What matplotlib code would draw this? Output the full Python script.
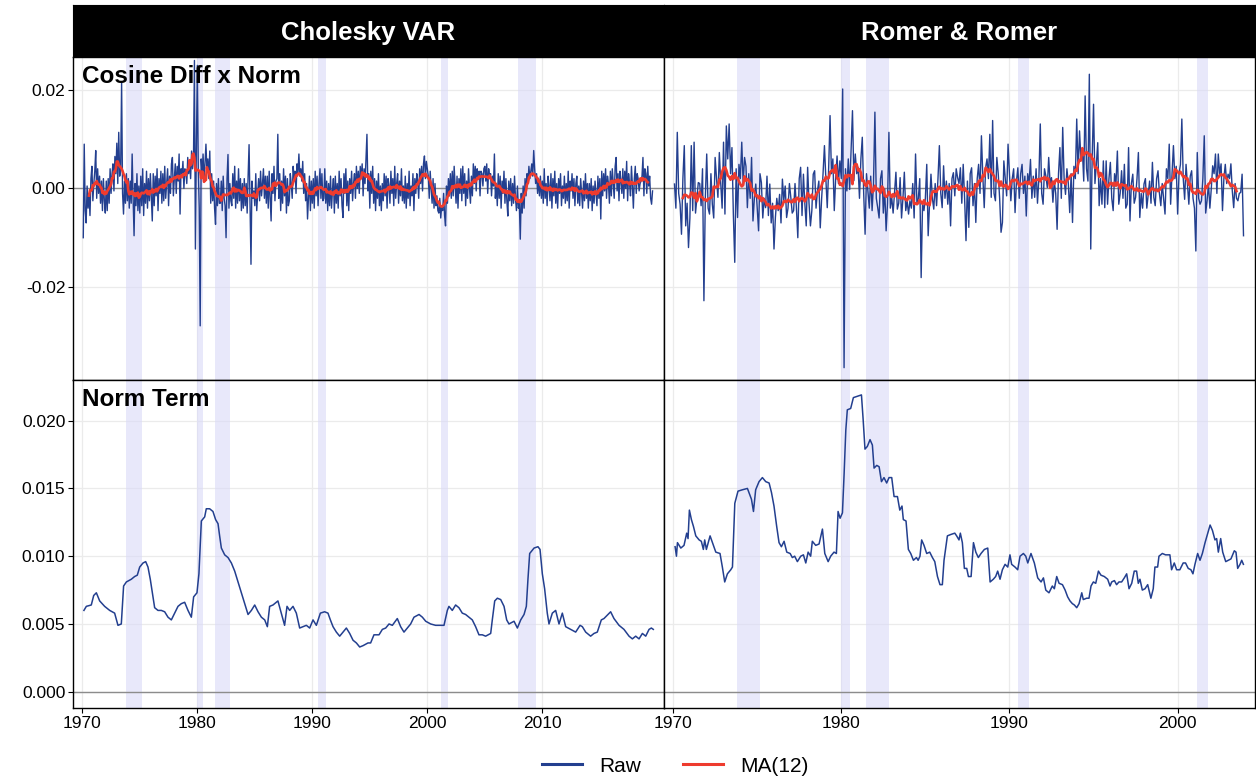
import numpy as np
import pandas as pd
import matplotlib
matplotlib.use('Agg')
import matplotlib.pyplot as plt
from matplotlib.lines import Line2D

plt.rcParams['font.family'] = ['Liberation Sans', 'DejaVu Sans']
plt.rcParams['axes.unicode_minus'] = False

BLUE = '#233F8F'
RED = '#EE3B2E'
BAND = '#D9DAF7'

col_titles = ['Cholesky VAR', 'Romer & Romer']
row_titles = ['Cosine Diff x Norm', 'Norm Term']
legend_labels = ['Raw', 'MA(12)']

# NBER recessions (decimal years)
recessions = [(1973.83, 1975.17), (1980.0, 1980.5), (1981.5, 1982.83),
              (1990.5, 1991.17), (2001.17, 2001.83), (2007.92, 2009.42)]

# cosine diff x norm, monthly from Feb 1970, units of 1e-4
chol_raw = [
    -100, 90, -45, -70, 5, -40, -10, -55, 20, 45, -25,            # 1970
    10, 35, 77, -20, 40, -10, 25, -30, 15, -45, 20, -25,           # 1971
    -50, 15, -45, 20, -30, 40, -10, 30, 50, -5, 65, 30,
    92, 10, 114, 25, 40, 216, -10, -52, 15, -30, 30, -25,
    20, -40, 15, -30, 70, -20, -96, 10, -35, 30, -45, 5,
    -50, 25, -35, 40, -55, 10, -30, 35, -40, 20, -25, 30,          # 1975
    -20, -66, 30, -35, 25, -15, 40, -45, 20, -10, 35, -30,
    30, -25, 45, -20, 10, 40, -35, 25, -10, 50, 63, -15,
    20, 50, -10, 45, 15, 70, -52, 40, 25, 55, 0, 40,
    35, 10, 63, 30, 55, 20, 76, 40, 60, 260, -123, 80,
    250, 40, -40, -279, 60, 30, 70, 20, 50, 90, 40, 60,            # 1980
    20, 76, -30, 30, -25, 15, -40, -73, 10, -35, 20, -30,
    -30, 15, -45, 25, -20, -35, -100, 20, 69, -40, 10, -25,
    -35, 30, -20, 45, -40, 15, -30, 40, -25, 20, -45, 10,
    -40, 20, -35, 10, -50, 25, 89, -30, -154, 15, -20, -5,
    -35, 30, -45, -10, 20, -25, 35, -15, 10, 40, -20, 25,          # 1985
    -30, 25, -40, 35, -20, -66, 30, -10, 45, -25, 15, 20,
    110, -20, 30, -45, 15, -30, 40, -15, 25, -50, 20, -35,
    -25, 30, 10, -20, 45, 20, 35, -10, 50, 30, 70, 25,
    40, 15, 55, -10, 30, -25, 10, -62, -20, 25, -45, 15,
    -30, 20, -40, 35, -15, 25, -35, 10, 40, -20, 30, -25,          # 1990
    -20, 40, -30, 15, -45, 10, -35, 25, -40, -5, 20, -50,
    25, -30, 10, -40, 35, -15, 20, -35, -59, 30, -10, 40,
    -35, 15, -45, 20, -10, 35, -25, 10, 30, -20, 45, 0,
    35, -10, 45, 20, 50, -15, 40, 10, 60, 110, -5, 30,
    -40, 35, -10, 45, -30, 20, -45, 15, -20, 30, -35, 5,           # 1995
    -45, 10, -25, 30, -15, 25, -40, 20, 5, -30, 35, -10,
    20, -35, 45, -20, 10, 30, -30, 15, -15, 40, -25, 5,
    -30, 25, -40, 10, -20, 35, -35, 5, -15, 30, -45, 20,
    -10, 30, 15, -20, 40, 10, 45, -5, 50, 66, 20, 55,
    40, 25, -20, 35, 0, -30, 20, -40, 10, -35, -15, -45,           # 2000
    -50, -20, -60, -35, -45, -10, -55, -76, 5, -30, 20, -15,
    30, -20, 35, -15, 45, 5, -30, 25, -40, 20, -10, 40,
    -25, 45, -10, 30, -35, 15, -20, 40, 0, -30, 25, -15,
    50, 10, 45, -5, 40, 20, 35, -15, 35, 30, 5, 40,
    45, 15, 50, -10, 40, 20, 30, -15, 25, 5, 70, -20,              # 2005
    10, -35, 30, -20, 25, -40, 15, -10, 35, -30, 20, -25,
    -56, 15, -25, 20, -35, 10, -30, 25, -20, -45, 5, -40,
    -30, -103, -10, -50, 5, -40, 20, -15, 30, 10, 45, 20,
    35, 50, 25, 77, 40, 10, 30, -10, 20, -15, 25, -20,
    15, -30, 40, -20, 10, -35, 25, 5, -25, 30, -40, 20,            # 2010
    -15, 35, -30, 10, -40, 20, -10, 30, -35, 5, -20, 25,
    -30, 10, -25, 35, -40, 15, -5, 30, -20, 20, -35, 10,
    25, -30, 5, -35, 20, -10, -40, 15, -25, 30, -20, 10,
    -40, 10, -25, 20, -45, 5, -30, 15, -10, -35, 25, -20,
    20, -62, 35, -15, 30, -5, 40, -20, 25, 10, -30, 35,            # 2015
    -15, 40, 10, -20, 45, 63, -5, 30, -25, 35, 15, -10,
    40, -20, 35, 0, 55, -25, 30, 10, -15, 45, 5, -40,
    20, 45, -10, 30, 20, -5, 10, 15, 25, 63, -15, 40,
    30, -10, 45, 5, 25, -20, -32, -5,                              # 2019
]

romer_raw = [
    9, -40, 114, -10, -32, -93, 20, 87, -76, -30, -120,            # 1970
    -60, 87, -45, 94, -50, -18, 12, 10, -35, 40, -228, -20,
    70, -40, -52, 30, -32, -60, 63, 20, -18, 73, 10, -40,
    94, -52, 127, 60, 131, 30, 83, -52, -150, 40, -59, 49,
    20, 94, 10, 63, 45, -39, 30, -20, 63, -66, -20, 9,
    -40, -86, 30, 12, -60, -20, -39, 25, -55, 9, -70, -30,         # 1975
    -123, -59, -20, -45, -12, -70, 19, -25, 5, -59, -40, 10,
    -18, -50, -45, 10, -40, -100, 20, 43, -55, 29, -30, -76,
    43, -30, -76, -45, 29, 36, -40, -5, 15, -80, -20, 30,
    87, 20, -39, 40, 148, 30, 60, -45, 20, 66, 10, 56,
    20, 202, -364, 40, -5, 60, -2, 80, 158, 16, 70, 30,            # 1980
    43, -20, 60, 104, -10, -93, 30, -5, -40, 25, -45, 10,
    155, -20, -39, -60, 20, 36, -50, -1, -86, -30, 114, -40,
    -18, -50, -10, 33, -42, -30, 22, -60, -20, 33, -45, -25,
    -52, -25, -40, 10, -60, 70, -32, -20, 20, -181, -30, -45,
    -20, 49, -96, -30, 29, -20, -42, 10, -35, 20, 87, -10,         # 1985
    -39, 46, -20, 15, -32, 10, -76, 20, 32, -15, 40, 22,
    10, 42, -30, 49, -20, -106, 15, -79, 30, 42, -35, 10,
    -69, 20, 49, -10, 107, 25, -39, 42, 60, 20, 110, -18,
    138, -10, -25, 63, 30, -20, -89, -69, 56, 20, -15, 90,
    30, -25, 20, 40, -49, 15, 42, -20, 30, 49, -10, 25,            # 1990
    -56, 30, 10, 59, -20, 25, -18, 40, -30, 20, 131, -10,
    -32, 40, 25, 2, 63, 10, 22, -28, 15, -10, -83, 30,
    83, -20, 124, 20, -12, 40, 10, -49, 30, -69, 45, 20,
    141, 30, 117, 60, 80, 15, 188, 40, 15, 232, -123, 60,
    171, 10, 49, 93, -35, 20, -32, 56, -39, 56, -32, 20,           # 1995
    53, -20, -45, 30, 10, 76, -32, -10, 36, -20, 49, -40,
    -32, 83, -66, 10, 29, -30, -18, 20, 73, -59, -10, -40,
    9, 20, -40, -12, 15, -30, 53, -18, -35, 20, 36, -10,
    -35, 10, -20, -52, 40, 20, 90, -32, 30, 87, 20, 45,
    -52, 30, 49, 141, 20, -22, 49, 10, -32, 25, 36, -20,           # 2000
    -40, -127, 73, -20, -32, -25, 20, 107, -50, -25, 10, -40,
    -1, 46, 30, 70, -10, 70, 29, 50, -45, 20, 49, 10,
    29, 20, 50, -5, -39, 10, -20, -25, -10, -8, 29, -96,           # 2003
]

# norm term, units of 1e-3
chol_norm_year = [
    1970.14, 1970.35, 1970.78, 1970.99, 1971.22, 1971.51, 1971.94, 1972.38, 1972.81, 1973.10,
    1973.39, 1973.59, 1973.83, 1974.26, 1974.55, 1974.78, 1974.99, 1975.28, 1975.51, 1975.71,
    1975.91, 1976.14, 1976.29, 1976.58, 1976.87, 1977.16, 1977.45, 1977.74, 1978.03, 1978.32,
    1978.61, 1978.90, 1979.19, 1979.48, 1979.68, 1979.97, 1980.14, 1980.35, 1980.64, 1980.78,
    1981.07, 1981.36, 1981.59, 1981.80, 1981.94, 1982.09, 1982.38, 1982.67, 1982.96, 1983.25,
    1983.54, 1983.83, 1984.12, 1984.41, 1984.70, 1984.99, 1985.28, 1985.57, 1985.86, 1986.09,
    1986.29, 1986.58, 1987.01, 1987.30, 1987.59, 1987.80, 1988.03, 1988.32, 1988.61, 1988.90,
    1989.19, 1989.48, 1989.77, 1990.06, 1990.35, 1990.70, 1991.07, 1991.36, 1991.57, 1991.80,
    1992.09, 1992.38, 1992.67, 1992.96, 1993.25, 1993.54, 1993.83, 1994.12, 1994.41, 1994.84,
    1995.07, 1995.36, 1995.80, 1996.09, 1996.38, 1996.67, 1996.96, 1997.39, 1997.68, 1997.97,
    1998.26, 1998.55, 1998.84, 1999.28, 1999.57, 1999.86, 2000.29, 2000.72, 2001.16, 2001.45,
    2001.74, 2001.88, 2002.17, 2002.46, 2002.75, 2003.04, 2003.33, 2003.62, 2003.91, 2004.20,
    2004.49, 2004.78, 2005.07, 2005.51, 2005.65, 2005.86, 2006.09, 2006.38, 2006.67, 2006.90,
    2007.10, 2007.54, 2007.83, 2008.12, 2008.41, 2008.61, 2008.75, 2008.90, 2009.28, 2009.62,
    2009.80, 2010.00, 2010.20, 2010.43, 2010.58, 2010.87, 2011.16, 2011.45, 2011.74, 2012.03,
    2012.46, 2012.90, 2013.28, 2013.48, 2013.77, 2014.20, 2014.49, 2014.78, 2015.13, 2015.36,
    2015.71, 2015.94, 2016.23, 2016.67, 2017.10, 2017.54, 2017.83, 2018.12, 2018.41, 2018.70,
    2018.99, 2019.28, 2019.48, 2019.65,
]
chol_norm = [
    6.0, 6.3, 6.4, 7.1, 7.3, 6.7, 6.3, 6.0, 5.8, 4.9,
    5.0, 7.8, 8.1, 8.3, 8.5, 8.6, 9.2, 9.5, 9.6, 9.2,
    8.3, 7.0, 6.2, 6.0, 6.0, 5.9, 5.5, 5.3, 5.8, 6.3,
    6.5, 6.6, 6.0, 5.5, 7.0, 7.3, 8.7, 12.6, 12.9, 13.5,
    13.5, 13.3, 12.7, 12.4, 11.5, 10.6, 10.1, 9.9, 9.5, 8.9,
    8.1, 7.3, 6.5, 5.7, 6.0, 6.4, 5.9, 5.5, 5.3, 4.8,
    6.3, 6.4, 6.7, 5.8, 4.9, 6.3, 6.0, 6.3, 5.8, 4.7,
    4.8, 4.9, 4.7, 5.3, 4.9, 5.8, 5.9, 5.8, 5.3, 4.8,
    4.4, 4.1, 4.4, 4.7, 4.3, 3.8, 3.6, 3.3, 3.4, 3.6,
    3.6, 4.2, 4.2, 4.6, 4.7, 5.0, 4.9, 5.4, 4.8, 4.4,
    4.7, 5.0, 5.5, 5.7, 5.5, 5.2, 5.0, 4.9, 4.9, 4.9,
    6.0, 6.3, 6.0, 6.4, 6.2, 5.8, 5.7, 5.5, 5.3, 4.8,
    4.2, 4.2, 4.1, 4.3, 5.3, 6.7, 6.9, 6.8, 6.3, 5.3,
    5.0, 5.2, 4.7, 5.3, 5.7, 6.3, 8.3, 10.2, 10.6, 10.7,
    10.5, 8.7, 7.6, 5.8, 5.0, 5.8, 6.0, 5.0, 5.8, 4.8,
    4.6, 4.4, 4.9, 4.8, 4.4, 4.1, 4.3, 4.4, 5.3, 5.4,
    5.7, 5.9, 5.4, 4.9, 4.6, 4.1, 3.9, 4.1, 3.9, 4.3,
    4.1, 4.6, 4.7, 4.6,
]

romer_norm_year = [
    1970.12, 1970.20, 1970.26, 1970.46, 1970.65, 1970.81, 1970.89, 1970.97, 1971.09, 1971.21,
    1971.35, 1971.55, 1971.68, 1971.80, 1971.88, 1971.98, 1972.20, 1972.40, 1972.54, 1972.79,
    1972.93, 1973.07, 1973.23, 1973.43, 1973.53, 1973.67, 1973.86, 1974.12, 1974.42, 1974.66,
    1974.78, 1974.91, 1975.11, 1975.31, 1975.51, 1975.71, 1975.85, 1976.00, 1976.16, 1976.30,
    1976.44, 1976.60, 1976.76, 1976.96, 1977.09, 1977.23, 1977.39, 1977.59, 1977.75, 1977.89,
    1978.03, 1978.18, 1978.28, 1978.48, 1978.68, 1978.88, 1979.02, 1979.22, 1979.37, 1979.57,
    1979.71, 1979.81, 1979.93, 1980.07, 1980.17, 1980.27, 1980.36, 1980.56, 1980.72, 1980.96,
    1981.20, 1981.30, 1981.41, 1981.55, 1981.71, 1981.85, 1981.95, 1982.11, 1982.25, 1982.39,
    1982.54, 1982.70, 1982.84, 1983.00, 1983.14, 1983.34, 1983.48, 1983.61, 1983.69, 1983.85,
    1983.99, 1984.13, 1984.29, 1984.47, 1984.57, 1984.68, 1984.78, 1984.92, 1985.08, 1985.26,
    1985.42, 1985.56, 1985.72, 1985.87, 1986.01, 1986.11, 1986.31, 1986.51, 1986.75, 1986.86,
    1987.00, 1987.08, 1987.20, 1987.32, 1987.46, 1987.56, 1987.72, 1987.86, 1988.00, 1988.15,
    1988.31, 1988.51, 1988.71, 1988.85, 1989.04, 1989.18, 1989.30, 1989.44, 1989.58, 1989.74,
    1989.90, 1990.03, 1990.13, 1990.33, 1990.49, 1990.63, 1990.83, 1990.97, 1991.09, 1991.28,
    1991.48, 1991.68, 1991.88, 1992.02, 1992.16, 1992.35, 1992.55, 1992.67, 1992.81, 1992.95,
    1993.15, 1993.31, 1993.46, 1993.60, 1993.74, 1993.86, 1994.00, 1994.14, 1994.30, 1994.39,
    1994.59, 1994.73, 1994.85, 1994.99, 1995.13, 1995.29, 1995.44, 1995.64, 1995.84, 1995.98,
    1996.08, 1996.24, 1996.37, 1996.51, 1996.67, 1996.83, 1996.97, 1997.11, 1997.27, 1997.42,
    1997.56, 1997.66, 1997.76, 1997.90, 1998.06, 1998.22, 1998.41, 1998.55, 1998.65, 1998.81,
    1998.89, 1999.09, 1999.28, 1999.54, 1999.64, 1999.80, 1999.94, 2000.13, 2000.33, 2000.47,
    2000.63, 2000.79, 2000.91, 2001.03, 2001.19, 2001.33, 2001.47, 2001.63, 2001.79, 2001.93,
    2002.07, 2002.22, 2002.32, 2002.42, 2002.56, 2002.68, 2002.86, 2003.02, 2003.17, 2003.37,
    2003.47, 2003.57, 2003.71, 2003.81, 2003.91,
]
romer_norm = [
    10.7, 10.0, 11.0, 10.6, 10.8, 11.7, 11.3, 13.4, 12.7, 12.2,
    11.5, 11.2, 11.1, 10.5, 11.2, 10.5, 11.5, 10.8, 10.3, 10.2,
    9.2, 8.1, 8.7, 9.0, 9.2, 13.9, 14.8, 14.9, 15.0, 14.2,
    13.3, 14.9, 15.5, 15.8, 15.5, 15.4, 14.7, 13.7, 12.2, 11.0,
    10.7, 11.1, 10.3, 10.2, 9.9, 10.0, 9.6, 10.0, 10.1, 9.5,
    10.3, 10.0, 11.1, 10.8, 10.9, 12.0, 10.2, 9.6, 10.0, 10.3,
    10.2, 13.3, 12.8, 13.2, 16.1, 19.3, 20.8, 20.9, 21.7, 21.8,
    21.9, 20.1, 17.9, 18.1, 18.6, 18.2, 16.5, 16.7, 16.6, 15.5,
    15.8, 15.4, 15.8, 15.8, 14.4, 14.4, 13.4, 13.7, 12.7, 12.6,
    10.5, 10.2, 9.7, 9.9, 9.7, 10.0, 11.2, 10.8, 10.2, 10.3,
    9.9, 9.6, 8.5, 7.9, 7.9, 9.7, 11.5, 11.6, 11.7, 11.5,
    11.2, 11.7, 11.0, 9.1, 9.1, 8.5, 8.5, 11.0, 10.3, 9.9,
    10.2, 10.5, 10.6, 8.1, 8.3, 8.5, 8.9, 8.3, 9.0, 9.4,
    9.2, 10.1, 9.4, 9.2, 9.0, 10.0, 10.2, 10.0, 9.5, 10.2,
    9.5, 8.4, 8.1, 8.4, 7.5, 7.3, 7.8, 7.6, 8.5, 8.0,
    7.9, 7.5, 7.0, 6.7, 6.5, 6.4, 6.2, 6.5, 7.3, 6.8,
    6.9, 6.9, 7.8, 8.1, 8.0, 8.9, 8.6, 8.5, 8.3, 7.8,
    8.1, 8.2, 7.9, 8.1, 8.1, 8.4, 8.7, 7.6, 8.0, 8.9,
    8.9, 8.0, 8.3, 7.5, 7.6, 7.9, 6.9, 7.6, 9.2, 9.2,
    10.0, 10.2, 10.1, 10.1, 9.0, 9.5, 9.0, 9.0, 9.5, 9.5,
    9.1, 9.0, 8.7, 9.4, 10.2, 9.7, 10.2, 11.0, 11.7, 12.3,
    11.9, 11.2, 11.3, 10.3, 11.3, 10.3, 9.6, 9.7, 9.8, 10.4,
    10.3, 9.1, 9.4, 9.7, 9.4,
]

top_yticks = [-0.02, 0.0, 0.02]
top_ylabels = ['-0.02', '0.00', '0.02']
bot_yticks = [0.0, 0.005, 0.010, 0.015, 0.020]
bot_ylabels = ['0.000', '0.005', '0.010', '0.015', '0.020']
xticks = [[1970, 1980, 1990, 2000, 2010], [1970, 1980, 1990, 2000]]
xlims = [(1969.19, 2020.58), (1969.46, 2004.6)]


def monthly(vals):
    s = pd.Series(np.array(vals, dtype=float) * 1e-4)
    t = 1970 + (1 + np.arange(len(s))) / 12.0   # Feb 1970 onwards
    return t, s.values, s.rolling(12, center=True).mean().values


fig = plt.figure(figsize=(12.56, 7.82), dpi=100)
W, H = 1256.0, 782.0
col_x = [73, 664]
col_w = 591
row_y = [(57, 380), (380, 708)]


def frac(x0, y0, x1, y1):
    return [x0 / W, 1 - y1 / H, (x1 - x0) / W, (y1 - y0) / H]


raws = [monthly(chol_raw), monthly(romer_raw)]
norms = [(chol_norm_year, chol_norm), (romer_norm_year, romer_norm)]

for c in range(2):
    # strip
    sax = fig.add_axes(frac(col_x[c], 5, col_x[c] + col_w, 57))
    sax.set_facecolor('black')
    sax.set_xticks([]); sax.set_yticks([])
    for sp in sax.spines.values():
        sp.set_color('black')
    sax.text(0.5, 0.46, col_titles[c], color='white', fontsize=18.5,
             fontweight='bold', ha='center', va='center', transform=sax.transAxes)

    for r in range(2):
        y0, y1 = row_y[r]
        ax = fig.add_axes(frac(col_x[c], y0, col_x[c] + col_w, y1))
        ax.set_xlim(*xlims[c])
        if r == 0:
            ax.set_ylim(-0.0389, 0.0267)
            ax.set_yticks(top_yticks)
            ax.set_yticklabels(top_ylabels)
        else:
            ax.set_ylim(-0.0012, 0.0230)
            ax.set_yticks(bot_yticks)
            ax.set_yticklabels(bot_ylabels)
        ax.set_xticks(xticks[c])
        ax.grid(True, color='#EBEBEB', lw=0.9)
        ax.set_axisbelow(True)

        for a, b in recessions:
            ax.axvspan(a, b, color=BAND, alpha=0.6, lw=0, zorder=1)
        ax.axhline(0, color='#8C8C8C', lw=1.0, zorder=1.5)

        if r == 0:
            t, raw, ma = raws[c]
            ax.plot(t, raw, color=BLUE, lw=1.0, zorder=2)
            ax.plot(t, ma, color=RED, lw=1.9, zorder=3)
        else:
            yrs, vals = norms[c]
            ax.plot(yrs, np.array(vals) * 1e-3, color=BLUE, lw=1.1, zorder=2)

        for sp in ax.spines.values():
            sp.set_color('black')
            sp.set_linewidth(1.0)
        ax.tick_params(length=3.5, width=0.8, color='black', labelsize=12.5,
                       labelcolor='black', pad=2)
        if r == 0:
            ax.tick_params(axis='x', length=0, labelbottom=False)
        if c == 1:
            ax.tick_params(axis='y', length=0, labelleft=False)
        if c == 0:
            ax.text(0.015, 0.975, row_titles[r], transform=ax.transAxes,
                    ha='left', va='top', fontsize=17.5, fontweight='bold', zorder=5)

handles = [Line2D([], [], color=BLUE, lw=2.2), Line2D([], [], color=RED, lw=2.2)]
fig.legend(handles, legend_labels, loc='center', bbox_to_anchor=(675 / W, 1 - 766 / H),
           ncol=2, frameon=False, fontsize=15, handlelength=1.95, columnspacing=2.0,
           handletextpad=0.8)

fig.savefig('out.png', dpi=100)
